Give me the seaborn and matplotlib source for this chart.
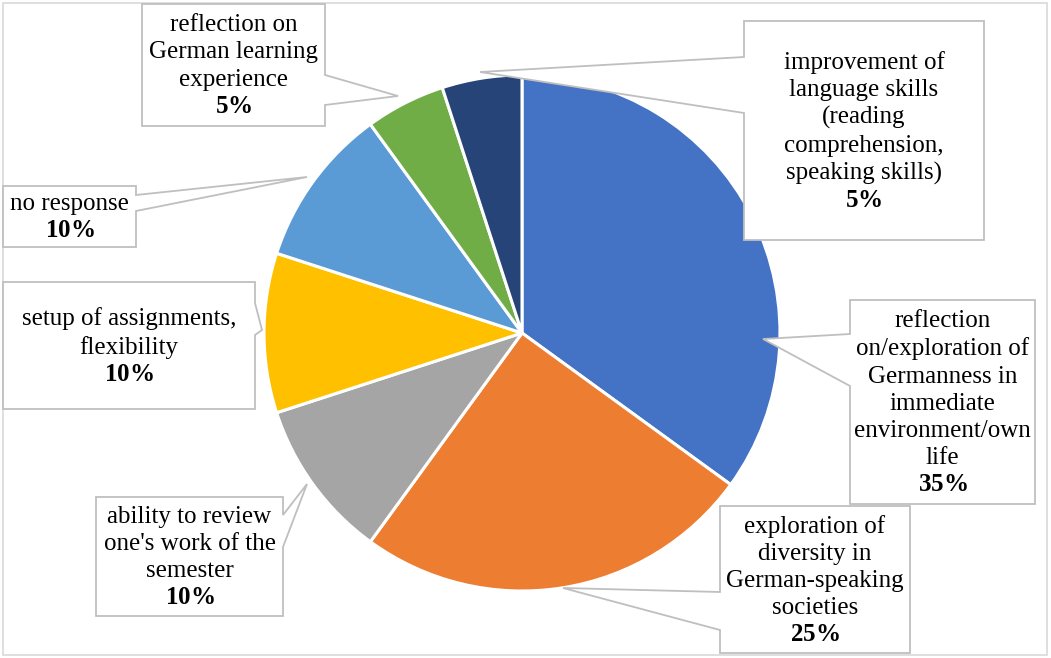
import matplotlib
matplotlib.use('Agg')
import matplotlib.pyplot as plt
import seaborn as sns
from matplotlib.patches import Polygon, Rectangle

# Daten (im Uhrzeigersinn ab 12 Uhr)
categories = [
    "reflection\non/exploration of\nGermanness in\nimmediate\nenvironment/own\nlife",
    "exploration of\ndiversity in\nGerman-speaking\nsocieties",
    "ability to review\none's work of the\nsemester",
    "setup of assignments,\nflexibility",
    "no response",
    "reflection on\nGerman learning\nexperience",
    "improvement of\nlanguage skills\n(reading\ncomprehension,\nspeaking skills)",
]
shares = [35, 25, 10, 10, 10, 5, 5]
office_colors = ["#4472C4", "#ED7D31", "#A5A5A5", "#FFC000", "#5B9BD5", "#70AD47", "#264478"]

sns.set_theme(style="white")
plt.rcParams['font.family'] = ['Liberation Serif', 'DejaVu Serif']
plt.rcParams['mathtext.fontset'] = 'custom'
plt.rcParams['mathtext.rm'] = 'Liberation Serif'
plt.rcParams['mathtext.bf'] = 'Liberation Serif:bold'

W, H = 1051, 658
fig = plt.figure(figsize=(W / 100, H / 100), dpi=100)
ax = fig.add_axes([0, 0, 1, 1])
ax.set_xlim(0, W)
ax.set_ylim(0, H)
ax.axis('off')

def fy(y):
    # Pixelkoordinate (von oben) -> Achsenkoordinate
    return H - y

# Rahmen um das Diagramm
ax.add_patch(Rectangle((3, fy(655)), 1044, 652, fill=False, edgecolor='#D9D9D9', lw=1.2))

palette = sns.color_palette(office_colors)
ax.pie(shares, colors=palette, startangle=90, counterclock=False,
       center=(522, fy(333)), radius=258,
       wedgeprops=dict(edgecolor='white', linewidth=2.2))
ax.set_xlim(0, W)
ax.set_ylim(0, H)
ax.set_aspect('equal')

# Beschriftungsboxen: (x0, y0, x1, y1), Seite, Keilbasis, Keilspitze
callouts = [
    ((850, 300, 1035, 504), 'left', (334, 386), (763, 339)),
    ((720, 506, 910, 653), 'left', (592, 630), (563, 588)),
    ((96, 497, 283, 616), 'right', (515, 547), (307, 484)),
    ((3, 282, 255, 409), 'right', (303, 335), (262, 330)),
    ((3, 186, 136, 247), 'right', (195, 211), (307, 177)),
    ((142, 4, 325, 126), 'right', (75, 105), (398, 96)),
    ((744, 21, 984, 240), 'left', (57, 113), (480, 72)),
]

for (box, side, base, tip), label, val in zip(callouts, categories, shares):
    x0, y0, x1, y1 = box
    if side == 'right':
        pts = [(x0, y0), (x1, y0), (x1, base[0]), tip, (x1, base[1]), (x1, y1), (x0, y1)]
    else:
        pts = [(x0, y0), (x1, y0), (x1, y1), (x0, y1), (x0, base[1]), tip, (x0, base[0])]
    pts = [(px, fy(py)) for px, py in pts]
    ax.add_patch(Polygon(pts, closed=True, facecolor='white', edgecolor='#BFBFBF',
                         lw=1.3, zorder=3, joinstyle='miter'))
    txt = label + "\n" + r"$\mathbf{" + f"{val}" + r"\%}$"
    ax.text((x0 + x1) / 2, fy((y0 + y1) / 2 + 1), txt, ha='center', va='center',
            fontsize=18, linespacing=1.3, color='black', zorder=4,
            multialignment='center')

fig.savefig('out.png', dpi=100)
